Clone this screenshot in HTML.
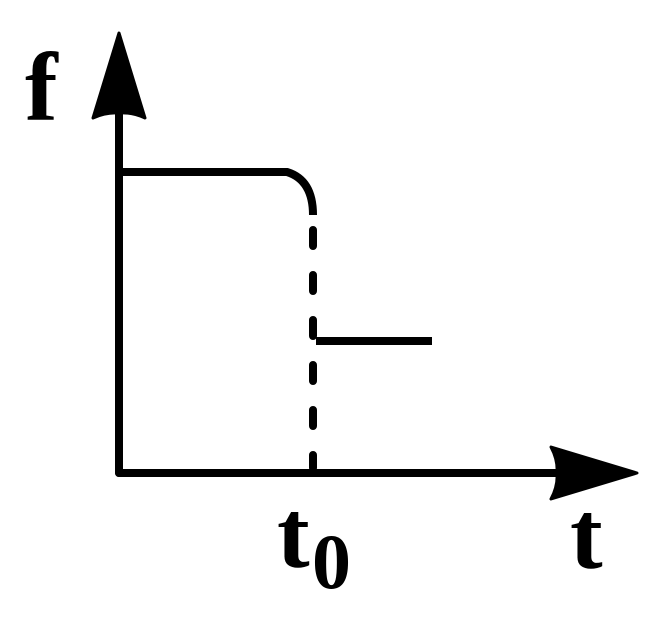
<!DOCTYPE html>
<html><head><style>html,body{margin:0;padding:0;background:#fff}svg{display:block}</style></head>
<body>
<svg width="664" height="628" viewBox="0 0 664 628" xmlns="http://www.w3.org/2000/svg">
<g stroke="#000" stroke-width="8" fill="none" stroke-linecap="round">
<line x1="119" y1="110" x2="119" y2="473"/>
<line x1="119" y1="473" x2="560" y2="473"/>
<path d="M119 172 H287 Q313 180 313 215" stroke-linecap="butt"/>
<line x1="313" y1="230" x2="313" y2="468" stroke-dasharray="16 29"/>
<line x1="316" y1="341" x2="432" y2="341" stroke-linecap="butt"/>
</g>
<path d="M119 33 L145 118 Q132 112 119 113 Q106 112 93 118 Z" fill="#000" stroke="#000" stroke-width="3" stroke-linejoin="round"/>
<path d="M637 473 L551 447 Q558 460 557 473 Q558 486 551 499 Z" fill="#000" stroke="#000" stroke-width="3" stroke-linejoin="round"/>
<g font-family="Liberation Serif, serif" font-weight="bold" fill="#000">
<text x="25" y="120" font-size="98">f</text>
<text x="277" y="567" font-size="98">t</text>
<text x="312" y="588" font-size="78">0</text>
<text x="570" y="568" font-size="98">t</text>
</g>
</svg>
</body></html>
